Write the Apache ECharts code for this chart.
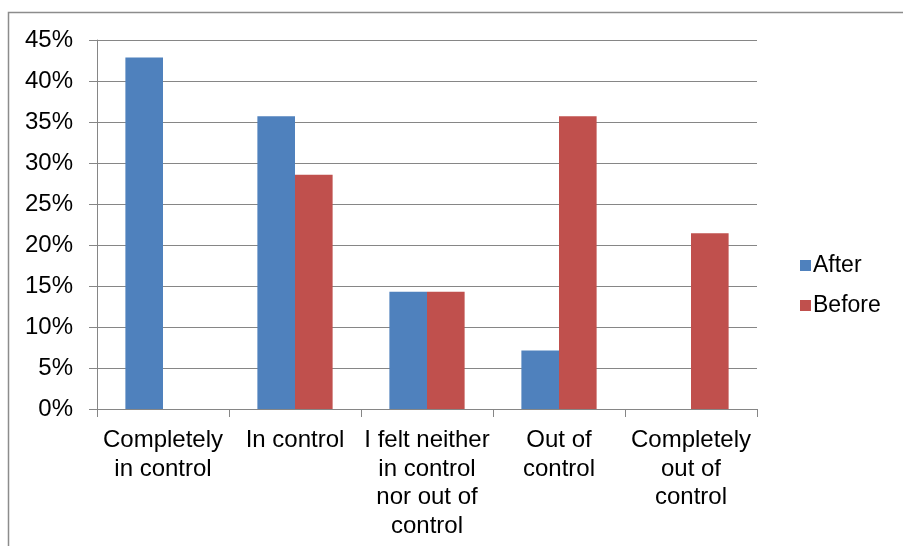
<!DOCTYPE html>
<html><head><meta charset="utf-8">
<script src="https://cdn.jsdelivr.net/npm/echarts@6/dist/echarts.min.js"></script>
<style>html,body{margin:0;padding:0;background:#fff}#c{width:903px;height:546px}</style>
</head><body><div id="c"></div>
<script>
const categories = ["Completely\nin control", "In control", "I felt neither\nin control\nnor out of\ncontrol", "Out of\ncontrol", "Completely\nout of\ncontrol"];
const afterVals = [0.4286, 0.3571, 0.1429, 0.0714, 0];
const beforeVals = [0, 0.2857, 0.1429, 0.3571, 0.2143];
const seriesNames = ["After", "Before"];
const yTicks = { min: 0, max: 0.45, interval: 0.05 };

const font = "'Liberation Sans', Arial, sans-serif";
const chart = echarts.init(document.getElementById('c'), null, { renderer: 'canvas' });
chart.setOption({
  animation: false,
  backgroundColor: '#fff',
  graphic: [{ type: 'rect', shape: { x: 8.5, y: 12.5, width: 1000, height: 1000 }, style: { fill: 'none', stroke: '#8c8c8c', lineWidth: 1.5 }, silent: true }],
  grid: { left: 97, right: 146, top: 40, bottom: 137, containLabel: false },
  legend: {
    orient: 'vertical', left: 795, top: 249, itemWidth: 11, itemHeight: 11, itemGap: 17,
    icon: 'rect',
    textStyle: { fontFamily: font, fontSize: 23, color: '#000', padding: [0, 0, 0, -3] },
    data: seriesNames
  },
  xAxis: {
    type: 'category', data: categories,
    axisLine: { lineStyle: { color: '#868686', width: 1 } },
    axisTick: { show: true, length: 8, alignWithLabel: false, lineStyle: { color: '#868686' } },
    axisLabel: { fontFamily: font, fontSize: 24, color: '#000', lineHeight: 28.7, margin: 17, interval: 0 }
  },
  yAxis: {
    type: 'value', min: yTicks.min, max: yTicks.max, interval: yTicks.interval,
    axisLine: { show: true, lineStyle: { color: '#868686', width: 1 } },
    axisTick: { show: true, length: 8, inside: false, lineStyle: { color: '#868686' } },
    splitLine: { lineStyle: { color: '#868686', width: 1 } },
    axisLabel: { fontFamily: font, fontSize: 24, color: '#000', margin: 24,
      formatter: v => Math.round(v * 100) + '%' }
  },
  series: [
    { name: seriesNames[0], type: 'bar', data: afterVals, itemStyle: { color: '#4F81BD' }, barGap: '0%', barCategoryGap: '43%' },
    { name: seriesNames[1], type: 'bar', data: beforeVals, itemStyle: { color: '#C0504D' }, barGap: '0%', barCategoryGap: '43%' }
  ]
});
</script></body></html>
